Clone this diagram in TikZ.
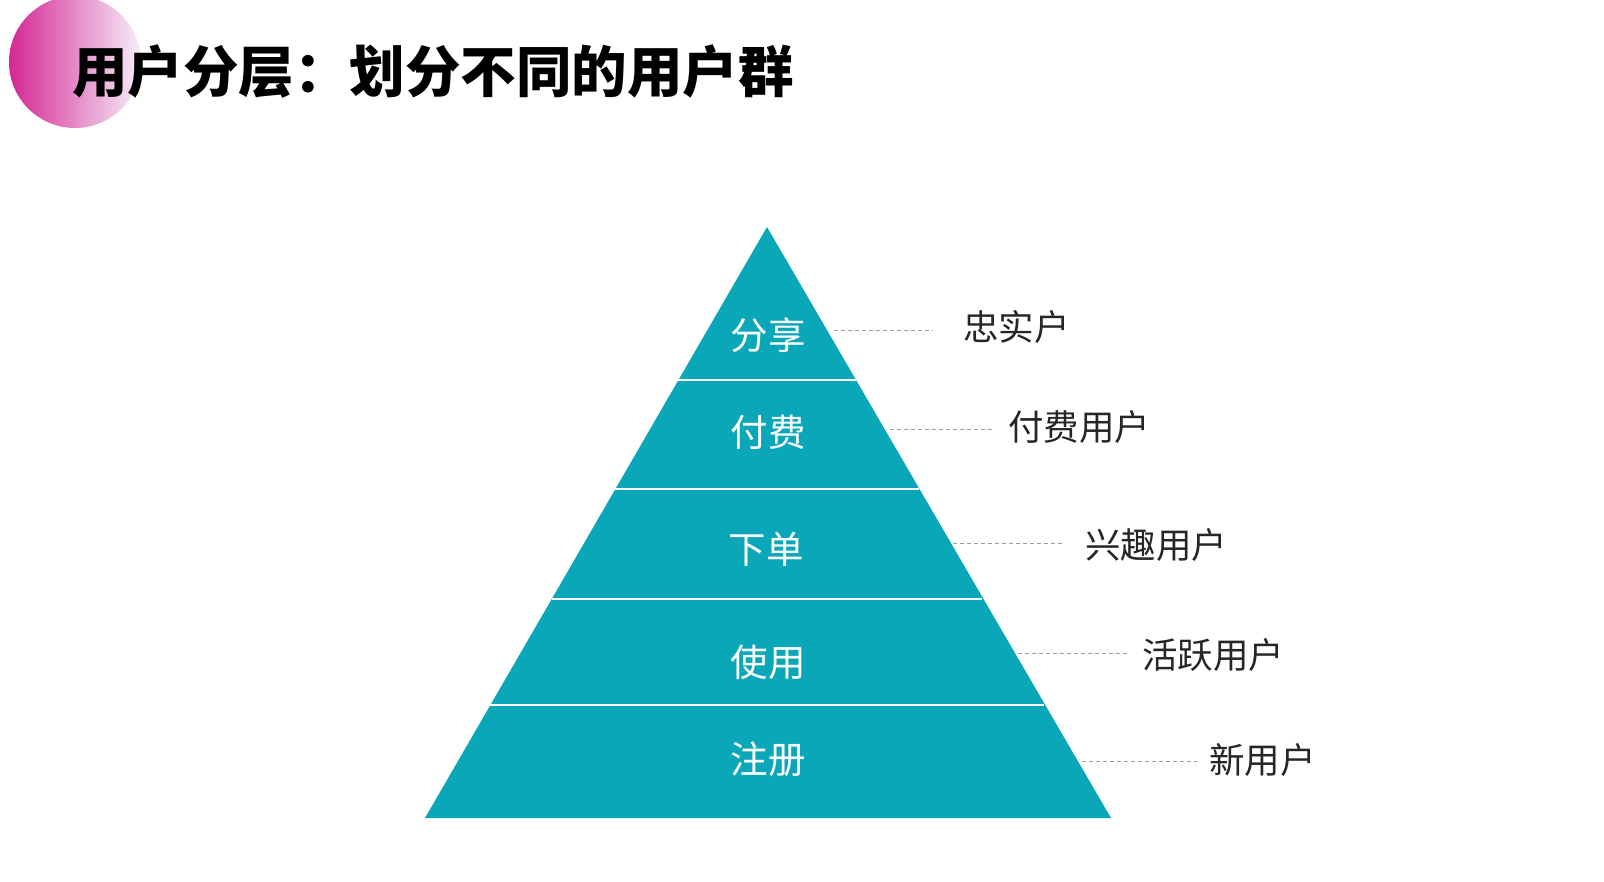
\documentclass[tikz,border=0pt]{standalone}
\usepackage{fontspec}
\newfontfamily\cjk{Noto Sans CJK SC}
\definecolor{teal1}{RGB}{10,167,184}
\definecolor{dashgray}{RGB}{160,160,160}
\definecolor{mag}{RGB}{212,38,148}
\definecolor{midp}{RGB}{200,130,200}
\definecolor{pale}{RGB}{246,238,250}
\begin{document}
\begin{tikzpicture}[x=1pt,y=-1pt,
  level/.style={font=\cjk\fontsize{37.5}{42}\selectfont, text=white, inner sep=0pt},
  tag/.style={font=\cjk\fontsize{35.5}{40}\selectfont, text=black!85, inner sep=0pt, anchor=west},
  leader/.style={draw=dashgray, line width=1pt, dash pattern=on 4pt off 3pt},
  divider/.style={draw=white, line width=2pt}]
\useasboundingbox (0,0) rectangle (1604,881);
\fill[white] (0,0) rectangle (1604,881);
% decorative circle
\shade[left color=mag, middle color=midp, right color=pale] (75,62) circle (66);
% title
\node[font=\cjk\bfseries\fontsize{55.5}{60}\selectfont, anchor=west, inner sep=0pt] (title) at (72,72) {用户分层：划分不同的用户群};
% pyramid
\coordinate (apex) at (767,227);
\coordinate (bl) at (425,818);
\coordinate (br) at (1111,818);
\fill[teal1] (apex) -- (br) -- (bl) -- cycle;
\foreach \y [count=\i] in {380,489,599,705}{
  \pgfmathsetmacro{\dx}{(\y-227)/591*342}
  \coordinate (dl\i) at ({767-\dx},\y);
  \coordinate (dr\i) at ({767+\dx},\y);
  \draw[divider] (dl\i) -- (dr\i);
}
\node[level] (l1) at (768,335) {分享};
\node[level] (l2) at (768,432) {付费};
\node[level] (l3) at (766,549) {下单};
\node[level] (l4) at (768,662) {使用};
\node[level] (l5) at (768,759) {注册};
% labels
\node[tag] (t1) at (963,327) {忠实户};
\node[tag] (t2) at (1008,427) {付费用户};
\node[tag] (t3) at (1085,545) {兴趣用户};
\node[tag] (t4) at (1142,655) {活跃用户};
\node[tag] (t5) at (1209,760) {新用户};
\coordinate (s1) at (834,330);  \coordinate (e1) at (933,330);
\coordinate (s2) at (890,429);  \coordinate (e2) at (992,429);
\coordinate (s3) at (953,543);  \coordinate (e3) at (1064,543);
\coordinate (s4) at (1018,653); \coordinate (e4) at (1128,653);
\coordinate (s5) at (1082,761); \coordinate (e5) at (1197,761);
\foreach \i in {1,...,5}{\draw[leader] (s\i) -- (e\i);}
\end{tikzpicture}
\end{document}
